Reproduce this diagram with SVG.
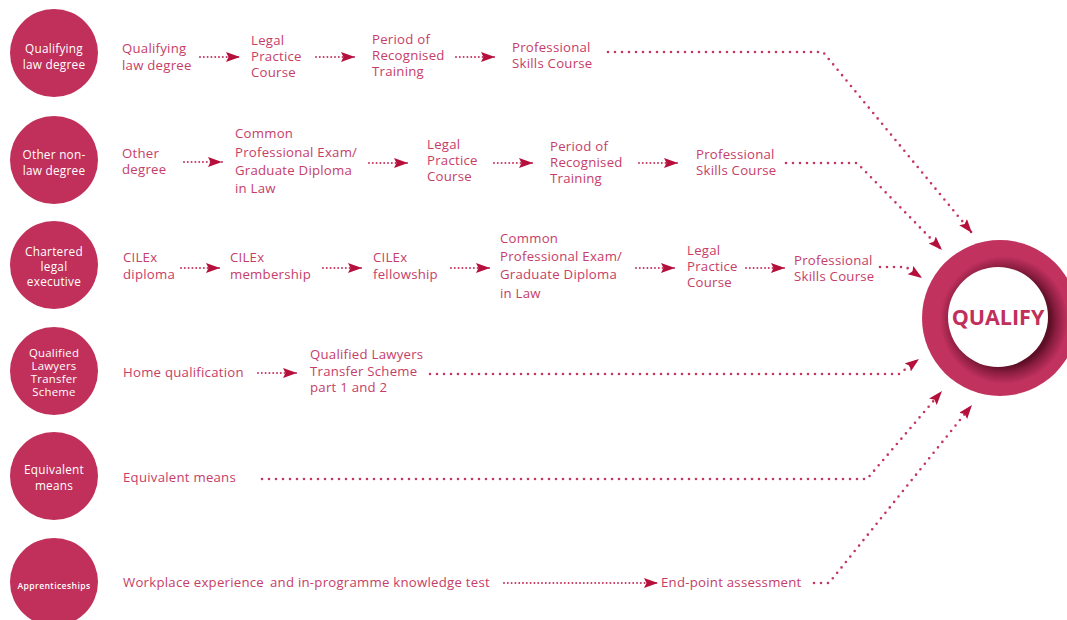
<svg xmlns="http://www.w3.org/2000/svg" width="1067" height="620" viewBox="0 0 1067 620">
<defs>
<style>
.bg{fill:#ffffff}
.src{fill:#c0305a}
.ct{fill:#ffffff;font-family:"Open Sans","Liberation Sans",sans-serif;font-size:11.8px;letter-spacing:0.25px;text-anchor:middle}
.lb{fill:#c63d68;font-family:"Open Sans","Liberation Sans",sans-serif;font-size:13.2px;letter-spacing:0.25px}
.sh{fill:none;stroke:#c4365f;stroke-width:2;stroke-linecap:round;stroke-dasharray:0 3.8}
.lg{fill:none;stroke:#c4365f;stroke-width:2.6;stroke-linecap:round;stroke-dasharray:0 7}
.q{fill:#c0305a;font-family:"Open Sans","Liberation Sans",sans-serif;font-size:21.5px;font-weight:bold;text-anchor:middle}
</style>
<marker id="ah" markerUnits="userSpaceOnUse" markerWidth="15" markerHeight="11" refX="14" refY="5" orient="auto" viewBox="0 0 15 11">
<path d="M0,0 L14,5 L0,10 L2.5,5 z" fill="#b5103c"/>
</marker>
<radialGradient id="ring" gradientUnits="userSpaceOnUse" cx="1004" cy="320" r="80">
<stop offset="0.58" stop-color="#5e0f27"/>
<stop offset="0.66" stop-color="#8a1d40"/>
<stop offset="0.80" stop-color="#c2325f"/>
<stop offset="1" stop-color="#c2325f"/>
</radialGradient>
</defs>
<rect class="bg" x="0" y="0" width="1067" height="620"/>

<g id="connectors">
<path class="sh" d="M200,57 H240" marker-end="url(#ah)"/>
<path class="sh" d="M316,57 H355" marker-end="url(#ah)"/>
<path class="sh" d="M456,57 H495" marker-end="url(#ah)"/>
<path class="lg" d="M608,52 H823 L972,233" marker-end="url(#ah)"/>

<path class="sh" d="M184,162 H222" marker-end="url(#ah)"/>
<path class="sh" d="M369,163 H408" marker-end="url(#ah)"/>
<path class="sh" d="M494,163 H533" marker-end="url(#ah)"/>
<path class="sh" d="M639,163 H678" marker-end="url(#ah)"/>
<path class="lg" d="M786,163 H857 L942,250" marker-end="url(#ah)"/>

<path class="sh" d="M181,268 H220" marker-end="url(#ah)"/>
<path class="sh" d="M323,268 H362" marker-end="url(#ah)"/>
<path class="sh" d="M451,268 H490" marker-end="url(#ah)"/>
<path class="sh" d="M636,268 H675" marker-end="url(#ah)"/>
<path class="sh" d="M746,268 H785" marker-end="url(#ah)"/>
<path class="lg" d="M880,267 H906 L922,278" marker-end="url(#ah)"/>

<path class="sh" d="M258,373 H297" marker-end="url(#ah)"/>
<path class="lg" d="M430,374 H899 L919,359" marker-end="url(#ah)"/>

<path class="lg" d="M262,479 H867 L942,391" marker-end="url(#ah)"/>

<path class="sh" d="M504,583 H658" marker-end="url(#ah)"/>
<path class="lg" d="M814,583 H829 L972,405" marker-end="url(#ah)"/>
</g>

<g id="n-qld">
<circle class="src" cx="54" cy="53" r="44"/>
<text class="ct"><tspan x="54" y="53">Qualifying</tspan><tspan x="54" y="68.5">law degree</tspan></text>
</g>
<g id="n-other">
<circle class="src" cx="54" cy="160" r="44"/>
<text class="ct"><tspan x="54" y="159">Other non-</tspan><tspan x="54" y="175">law degree</tspan></text>
</g>
<g id="n-cle">
<circle class="src" cx="54" cy="265" r="44"/>
<text class="ct"><tspan x="54" y="256">Chartered</tspan><tspan x="54" y="271">legal</tspan><tspan x="54" y="286">executive</tspan></text>
</g>
<g id="n-qlts">
<circle class="src" cx="54" cy="371" r="44"/>
<text class="ct" style="font-size:11.4px"><tspan x="54" y="357">Qualified</tspan><tspan x="54" y="370">Lawyers</tspan><tspan x="54" y="383">Transfer</tspan><tspan x="54" y="396">Scheme</tspan></text>
</g>
<g id="n-equiv">
<circle class="src" cx="54" cy="476" r="44"/>
<text class="ct"><tspan x="54" y="474">Equivalent</tspan><tspan x="54" y="490">means</tspan></text>
</g>
<g id="n-app">
<circle class="src" cx="54" cy="582" r="44"/>
<text class="ct" x="54" y="589" style="font-size:8.6px;letter-spacing:0.4px;font-weight:600">Apprenticeships</text>
</g>

<g id="r1-labels">
<text class="lb"><tspan x="122" y="53">Qualifying</tspan><tspan x="122" y="69.5">law degree</tspan></text>
<text class="lb"><tspan x="251" y="44.5">Legal</tspan><tspan x="251" y="60.5">Practice</tspan><tspan x="251" y="76.5">Course</tspan></text>
<text class="lb"><tspan x="372" y="44">Period of</tspan><tspan x="372" y="60">Recognised</tspan><tspan x="372" y="76">Training</tspan></text>
<text class="lb"><tspan x="512" y="52">Professional</tspan><tspan x="512" y="68">Skills Course</tspan></text>
</g>

<g id="r2-labels">
<text class="lb"><tspan x="122" y="158">Other</tspan><tspan x="122" y="174">degree</tspan></text>
<text class="lb"><tspan x="235" y="138">Common</tspan><tspan x="235" y="157">Professional Exam/</tspan><tspan x="235" y="175">Graduate Diploma</tspan><tspan x="235" y="193">in Law</tspan></text>
<text class="lb"><tspan x="427" y="148.5">Legal</tspan><tspan x="427" y="164.5">Practice</tspan><tspan x="427" y="180.5">Course</tspan></text>
<text class="lb"><tspan x="550" y="151">Period of</tspan><tspan x="550" y="167">Recognised</tspan><tspan x="550" y="183">Training</tspan></text>
<text class="lb"><tspan x="696" y="159">Professional</tspan><tspan x="696" y="175">Skills Course</tspan></text>
</g>

<g id="r3-labels">
<text class="lb"><tspan x="123" y="262">CILEx</tspan><tspan x="123" y="279">diploma</tspan></text>
<text class="lb"><tspan x="230" y="262">CILEx</tspan><tspan x="230" y="279">membership</tspan></text>
<text class="lb"><tspan x="373" y="262">CILEx</tspan><tspan x="373" y="279">fellowship</tspan></text>
<text class="lb"><tspan x="500" y="243">Common</tspan><tspan x="500" y="261">Professional Exam/</tspan><tspan x="500" y="279">Graduate Diploma</tspan><tspan x="500" y="298">in Law</tspan></text>
<text class="lb"><tspan x="687" y="255">Legal</tspan><tspan x="687" y="271">Practice</tspan><tspan x="687" y="287">Course</tspan></text>
<text class="lb"><tspan x="794" y="265">Professional</tspan><tspan x="794" y="281">Skills Course</tspan></text>
</g>

<g id="r4-labels">
<text class="lb" x="123" y="377">Home qualification</text>
<text class="lb"><tspan x="310" y="359">Qualified Lawyers</tspan><tspan x="310" y="375.5">Transfer Scheme</tspan><tspan x="310" y="392">part 1 and 2</tspan></text>
</g>

<g id="r5-labels">
<text class="lb" x="123" y="482">Equivalent means</text>
</g>

<g id="r6-labels">
<text class="lb"><tspan x="123" y="587">Workplace experience</tspan><tspan x="270" y="587">and in-programme knowledge test</tspan></text>
<text class="lb" x="661" y="587">End-point assessment</text>
</g>

<g id="n-qualify">
<circle cx="1000" cy="318" r="78" fill="url(#ring)"/>
<circle cx="998" cy="317" r="50" fill="#ffffff"/>
<text class="q" x="998" y="325">QUALIFY</text>
</g>
</svg>
